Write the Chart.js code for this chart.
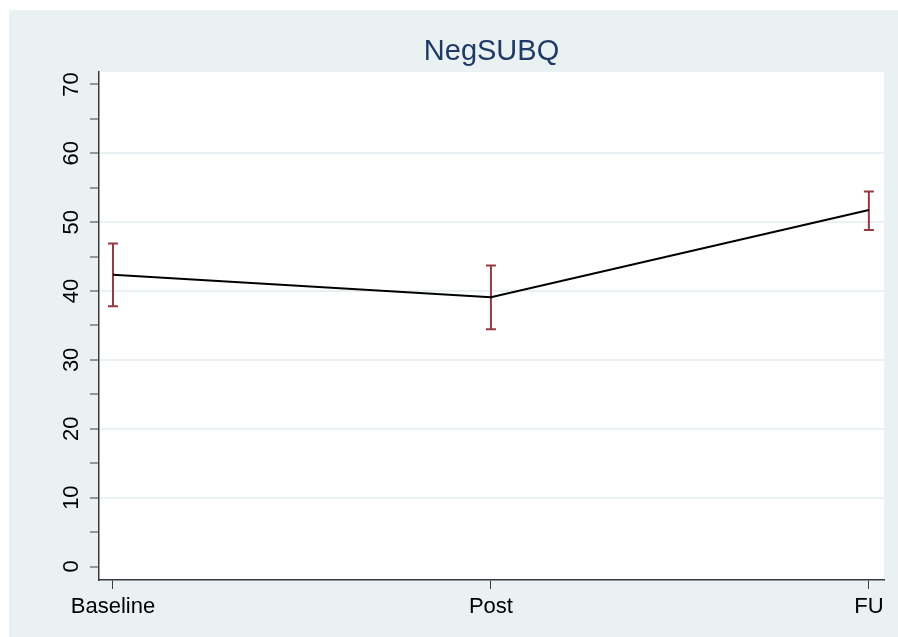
<!DOCTYPE html>
<html lang="en">
<head>
  <meta charset="UTF-8">
  <title>NegSUBQ</title>
  <script src="https://cdn.jsdelivr.net/npm/chart.js"></script>
  <style>
    html, body {
      margin: 0;
      padding: 0;
      background: #ffffff;
      overflow: hidden;
    }
    .chart-container {
      position: absolute;
      left: 9px;
      top: 10px;
      width: 889px;
      height: 627px;
      background: #e9f1f3;
    }
  </style>
</head>
<body>
  <div class="chart-container">
    <canvas id="negChart"></canvas>
  </div>

  <script>
    const chartTitle = 'NegSUBQ';
    const categories = ['Baseline', 'Post', 'FU'];
    const means = [42.35, 39.1, 51.75];
    const upper = [46.9, 43.7, 54.45];
    const lower = [37.8, 34.45, 48.85];
    const yTickValues = [0, 5, 10, 15, 20, 25, 30, 35, 40, 45, 50, 55, 60, 65, 70];
    const yLabelValues = [0, 10, 20, 30, 40, 50, 60, 70];

    const fontFamily = "'Liberation Sans', Arial, sans-serif";
    const gridColor = '#eaf1f4';
    const axisColor = '#3a3a3a';
    const barColor = '#953a43';

    // white plot area on the tinted graph region
    const plotBg = {
      id: 'plotBg',
      beforeDraw(chart) {
        const { ctx, chartArea: a } = chart;
        ctx.save();
        ctx.fillStyle = '#ffffff';
        ctx.fillRect(a.left, a.top, a.right - a.left, a.bottom - a.top);
        ctx.restore();
      }
    };

    // capped error bars (lower..upper) drawn through the scales
    const errorBars = {
      id: 'errorBars',
      beforeDatasetsDraw(chart) {
        const { ctx, scales } = chart;
        ctx.save();
        ctx.strokeStyle = barColor;
        ctx.lineWidth = 2;
        for (let i = 0; i < categories.length; i++) {
          const x = scales.x.getPixelForValue(i);
          const yHi = scales.y.getPixelForValue(upper[i]);
          const yLo = scales.y.getPixelForValue(lower[i]);
          ctx.beginPath();
          ctx.moveTo(x, yHi);
          ctx.lineTo(x, yLo);
          ctx.moveTo(x - 5, yHi);
          ctx.lineTo(x + 5, yHi);
          ctx.moveTo(x - 5, yLo);
          ctx.lineTo(x + 5, yLo);
          ctx.stroke();
        }
        ctx.restore();
      }
    };

    // title over the plot area and vertical y labels
    const textPlugin = {
      id: 'textPlugin',
      afterDraw(chart) {
        const { ctx, chartArea: a, scales } = chart;
        ctx.save();
        ctx.fillStyle = '#1f3a64';
        ctx.font = '29px ' + fontFamily;
        ctx.textAlign = 'center';
        ctx.textBaseline = 'alphabetic';
        ctx.fillText(chartTitle, (a.left + a.right) / 2, 50);

        ctx.fillStyle = '#000000';
        ctx.font = '22px ' + fontFamily;
        yLabelValues.forEach(v => {
          const y = scales.y.getPixelForValue(v);
          ctx.save();
          ctx.translate(69, y);
          ctx.rotate(-Math.PI / 2);
          ctx.textAlign = 'center';
          ctx.textBaseline = 'alphabetic';
          ctx.fillText(String(v), 0, 0);
          ctx.restore();
        });
        ctx.restore();
      }
    };

    const ctx = document.getElementById('negChart').getContext('2d');
    new Chart(ctx, {
      type: 'line',
      data: {
        datasets: [{
          label: chartTitle,
          data: means.map((m, i) => ({ x: i, y: m })),
          borderColor: '#000000',
          borderWidth: 2,
          pointRadius: 0,
          tension: 0,
          fill: false
        }]
      },
      options: {
        responsive: true,
        maintainAspectRatio: false,
        animation: false,
        layout: {
          padding: { left: 0, top: 62, right: 14, bottom: 0 }
        },
        plugins: {
          legend: { display: false },
          title: { display: false },
          tooltip: { enabled: false }
        },
        scales: {
          x: {
            type: 'linear',
            min: -0.037,
            max: 2.04,
            afterBuildTicks(scale) {
              scale.ticks = categories.map((c, i) => ({ value: i }));
            },
            afterFit(scale) {
              scale.height = 57;
            },
            border: { color: axisColor, width: 1.5 },
            grid: {
              drawOnChartArea: false,
              drawTicks: true,
              tickLength: 9,
              tickColor: axisColor,
              tickWidth: 1
            },
            ticks: {
              color: '#000000',
              font: { family: fontFamily, size: 22 },
              padding: 5,
              maxRotation: 0,
              callback: v => categories[v]
            }
          },
          y: {
            min: -1.96,
            max: 71.8,
            afterBuildTicks(scale) {
              scale.ticks = yTickValues.map(v => ({ value: v }));
            },
            afterFit(scale) {
              scale.width = 90;
            },
            border: { color: axisColor, width: 1.5 },
            grid: {
              color: c => (c.tick && c.tick.value % 10 === 0 && c.tick.value > 0 && c.tick.value < 70) ? gridColor : 'rgba(0,0,0,0)',
              lineWidth: 2,
              drawTicks: true,
              tickLength: 9,
              tickColor: axisColor,
              tickWidth: 1
            },
            ticks: {
              color: 'rgba(0,0,0,0)',
              font: { family: fontFamily, size: 21 },
              callback: v => ''
            }
          }
        }
      },
      plugins: [plotBg, errorBars, textPlugin]
    });
  </script>
</body>
</html>
